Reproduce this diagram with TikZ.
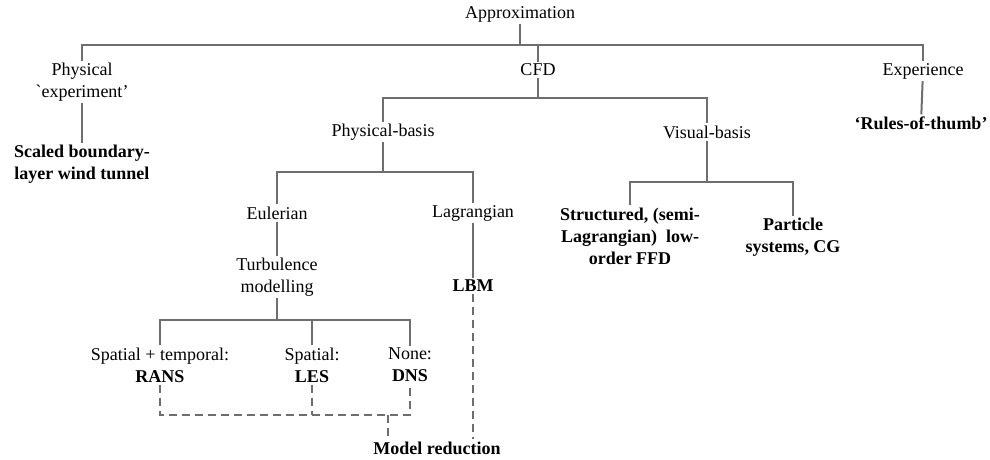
\documentclass[tikz,border=0pt]{standalone}
\usepackage{fontspec}
\setmainfont{Liberation Serif}[Ligatures=TeXOff]
\begin{document}
\begin{tikzpicture}[x=1pt,y=-1pt,
  lbl/.style={align=center,inner sep=2pt,font=\fontsize{18}{22}\selectfont},
  blbl/.style={lbl,font=\fontsize{18}{22}\selectfont\bfseries},
  ln/.style={draw=black!57,line width=2pt},
  dsh/.style={ln,dash pattern=on 8pt off 5pt}]
\fill[white] (0,0) rectangle (990,459);
\useasboundingbox (0,0) rectangle (990,459);
\node[lbl] (approx) at (520,14) {Approximation};
\node[lbl] (phys) at (82,82) {Physical\\`experiment’};
\node[blbl] (scaled) at (82,164) {Scaled boundary-\\layer wind tunnel};
\node[lbl] (cfd) at (538,70) {CFD};
\node[lbl] (exp) at (923,71) {Experience};
\node[blbl] (rules) at (921,123) {‘Rules-of-thumb’};
\node[lbl] (pb) at (383,132) {Physical-basis};
\node[lbl] (vb) at (707,132) {Visual-basis};
\node[lbl] (eul) at (277,213) {Eulerian};
\node[lbl] (lag) at (473,213) {Lagrangian};
\node[blbl] (struct) at (630,236) {Structured, (semi-\\Lagrangian)\ \ low-\\order FFD};
\node[blbl] (part) at (793,237) {Particle\\systems, CG};
\node[lbl] (turb) at (277,277) {Turbulence\\modelling};
\node[blbl] (lbm) at (473,286) {LBM};
\node[lbl] (st) at (160,365) {Spatial + temporal:\\\textbf{RANS}};
\node[lbl] (sp) at (312,365) {Spatial:\\\textbf{LES}};
\node[lbl] (none) at (410,365) {None:\\\textbf{DNS}};
\node[blbl] (mr) at (437,448) {Model reduction};
\coordinate (b1) at (520,45);
\coordinate (b2) at (538,98);
\coordinate (b3) at (383,172);
\coordinate (b4) at (707,182);
\coordinate (b5) at (277,320);
\coordinate (b6) at (388,415);
\draw[ln] (approx) -- (b1);
\draw[ln] (phys.north) |- (b1) -| (exp.north);
\draw[ln] (cfd.north) -- (cfd.north |- b1);
\draw[ln] (phys) -- (scaled);
\draw[ln] (exp) -- (rules);
\draw[ln] (cfd) -- (b2);
\draw[ln] (pb.north) |- (b2) -| (vb.north);
\draw[ln] (pb) -- (b3);
\draw[ln] (eul.north) |- (b3) -| (lag.north);
\draw[ln] (vb) -- (b4);
\draw[ln] (struct.north) |- (b4) -| (part.north);
\draw[ln] (eul) -- (turb);
\draw[ln] (lag) -- (lbm);
\draw[ln] (turb) -- (b5);
\draw[ln] (st.north) |- (b5) -| (none.north);
\draw[ln] (sp.north) -- (sp.north |- b5);
\draw[dsh] (st.south) |- (b6) -| (none.south);
\draw[dsh] (sp.south) -- (sp.south |- b6);
\draw[dsh] (b6) -- (b6 |- mr.north);
\draw[dsh] (lbm.south) -- (lbm.south |- mr.north);
\end{tikzpicture}
\end{document}
